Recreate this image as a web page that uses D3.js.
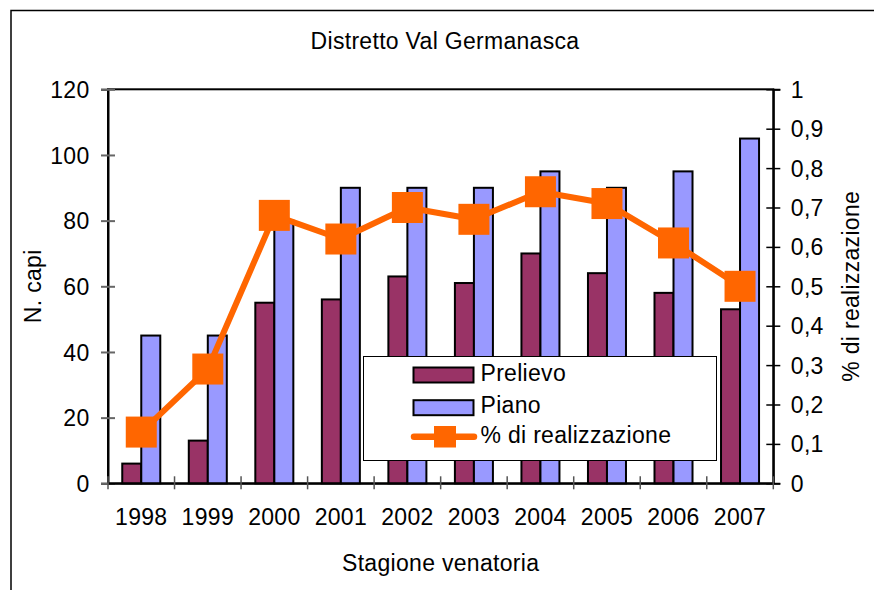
<!DOCTYPE html>
<html>
<head>
<meta charset="utf-8">
<script src="https://cdn.jsdelivr.net/npm/d3@7"></script>
<style>
  html, body { margin: 0; padding: 0; background: #fff; }
  svg text { font-family: "Liberation Sans", Arial, sans-serif; font-size: 23px; letter-spacing: 0.3px; fill: #000; }
</style>
</head>
<body>
<svg id="chart" width="874" height="590"></svg>
<script>
// Hunting seasons and culling figures
const seasons = ["1998", "1999", "2000", "2001", "2002", "2003", "2004", "2005", "2006", "2007"];
const prelievo = [6, 13, 55, 56, 63, 61, 70, 64, 58, 53];
const piano = [45, 45, 80, 90, 90, 90, 95, 90, 95, 105];
const realizzazione = [0.13, 0.29, 0.68, 0.62, 0.70, 0.67, 0.74, 0.71, 0.61, 0.50];
const leftTicks = [0, 20, 40, 60, 80, 100, 120];
const rightTicks = [0, 0.1, 0.2, 0.3, 0.4, 0.5, 0.6, 0.7, 0.8, 0.9, 1];
const seriesNames = ["Prelievo", "Piano"];
const lineName = "% di realizzazione";
const chartTitle = "Distretto Val Germanasca";
const xTitle = "Stagione venatoria";
const yTitle = "N. capi";
const y2Title = "% di realizzazione";

const barColors = { "Prelievo": "#993366", "Piano": "#9999FF" };
const lineColor = "#FF6600";
const FONT = "'Liberation Sans', Arial, sans-serif";

const plot = { left: 108, right: 773.3, top: 89.3, bottom: 483.3 };

const svg = d3.select("#chart");

// outer chart frame
svg.append("rect")
  .attr("x", 11).attr("y", 10.5).attr("width", 900).attr("height", 620)
  .attr("fill", "#fff").attr("stroke", "#000").attr("stroke-width", 1.5);

// scales
const x = d3.scaleBand().domain(seasons).range([plot.left, plot.right]).padding(0);
const xs = d3.scaleBand().domain(seriesNames).range([0, x.bandwidth()])
  .paddingInner(0).paddingOuter(0.75);
const y = d3.scaleLinear().domain([0, 120]).range([plot.bottom, plot.top]);
const y2 = d3.scaleLinear().domain([0, 1]).range([plot.bottom, plot.top]);

// plot area frame
svg.append("rect")
  .attr("x", plot.left).attr("y", plot.top)
  .attr("width", plot.right - plot.left).attr("height", plot.bottom - plot.top)
  .attr("fill", "#fff").attr("stroke", "#000").attr("stroke-width", 2);

// bars
const rows = seasons.map((s, i) => ({ season: s, Prelievo: prelievo[i], Piano: piano[i] }));
const groups = svg.append("g").selectAll("g").data(rows).join("g")
  .attr("transform", d => `translate(${x(d.season)},0)`);
groups.selectAll("rect")
  .data(d => seriesNames.map(k => ({ key: k, value: d[k] })))
  .join("rect")
  .attr("x", d => xs(d.key))
  .attr("y", d => y(d.value))
  .attr("width", xs.bandwidth())
  .attr("height", d => y(0) - y(d.value))
  .attr("fill", d => barColors[d.key])
  .attr("stroke", "#000").attr("stroke-width", 2);

// left axis
const gLeft = svg.append("g").attr("transform", `translate(${plot.left},0)`)
  .call(d3.axisLeft(y).tickValues(leftTicks).tickSize(7));
gLeft.select(".domain").attr("stroke", "#000").attr("stroke-width", 2);
gLeft.selectAll(".tick line").attr("x1", -7).attr("x2", 7).attr("stroke", "#666").attr("stroke-width", 2);
gLeft.selectAll(".tick text").attr("x", -18.5).attr("dy", "0.35em")
  .style("font-size", "23px").style("font-family", FONT);

// right axis
const fmtComma = v => String(+v.toFixed(1)).replace(".", ",");
const gRight = svg.append("g").attr("transform", `translate(${plot.right},0)`)
  .call(d3.axisRight(y2).tickValues(rightTicks).tickFormat(fmtComma).tickSize(7));
gRight.select(".domain").attr("stroke", "#000").attr("stroke-width", 2);
gRight.selectAll(".tick line").attr("x1", -7).attr("x2", 7).attr("stroke", "#000").attr("stroke-width", 1.5);
gRight.selectAll(".tick text").attr("x", 17.5).attr("dy", "0.35em")
  .style("font-size", "23px").style("font-family", FONT);

// bottom axis: category boundary ticks
const gBottom = svg.append("g").attr("transform", `translate(0,${plot.bottom})`)
  .call(d3.axisBottom(x).tickSize(0).tickPadding(0));
gBottom.select(".domain").attr("stroke", "#000").attr("stroke-width", 2);
gBottom.selectAll(".tick text").attr("y", 41.7).attr("dy", 0)
  .style("font-size", "23px").style("font-family", FONT);
const bounds = seasons.map(s => x(s)).concat([x(seasons[seasons.length - 1]) + x.bandwidth()]);
gBottom.selectAll("line.bound").data(bounds).join("line").attr("class", "bound")
  .attr("x1", d => d).attr("x2", d => d).attr("y1", -7).attr("y2", 6)
  .attr("stroke", "#555").attr("stroke-width", 1.5);

// percentage line with square markers
const cx = s => x(s) + x.bandwidth() / 2;
const pts = seasons.map((s, i) => ({ season: s, v: realizzazione[i] }));
svg.append("path").datum(pts)
  .attr("fill", "none").attr("stroke", lineColor).attr("stroke-width", 6)
  .attr("stroke-linejoin", "round")
  .attr("d", d3.line().x(d => cx(d.season)).y(d => y2(d.v)));
const mk = 31;
svg.append("g").selectAll("rect").data(pts).join("rect")
  .attr("x", d => cx(d.season) - mk / 2).attr("y", d => y2(d.v) - mk / 2)
  .attr("width", mk).attr("height", mk).attr("fill", lineColor);

// legend
const lg = svg.append("g");
lg.append("rect").attr("x", 363.5).attr("y", 356.5).attr("width", 353).attr("height", 104)
  .attr("fill", "#fff").attr("stroke", "#000").attr("stroke-width", 1);
seriesNames.forEach((k, i) => {
  const yy = 367.5 + i * 32.7;
  lg.append("rect").attr("x", 413.5).attr("y", yy).attr("width", 60).attr("height", 15)
    .attr("fill", barColors[k]).attr("stroke", "#000").attr("stroke-width", 2);
  lg.append("text").attr("x", 480.5).attr("y", yy + 13).text(k);
});
lg.append("line").attr("x1", 414).attr("x2", 474).attr("y1", 436.7).attr("y2", 436.7)
  .attr("stroke", lineColor).attr("stroke-width", 6.5).attr("stroke-linecap", "round");
lg.append("rect").attr("x", 434).attr("y", 426).attr("width", 22).attr("height", 21.5).attr("fill", lineColor);
lg.append("text").attr("x", 480.5).attr("y", 442.7).text(lineName);

// titles
svg.append("text").attr("x", 445).attr("y", 49.3).attr("text-anchor", "middle").text(chartTitle);
svg.append("text").attr("x", (plot.left + plot.right) / 2).attr("y", 571).attr("text-anchor", "middle").text(xTitle);
svg.append("text").attr("transform", `translate(41,${(plot.top + plot.bottom) / 2}) rotate(-90)`)
  .attr("text-anchor", "middle").text(yTitle);
svg.append("text").attr("transform", `translate(859,${(plot.top + plot.bottom) / 2}) rotate(-90)`)
  .attr("text-anchor", "middle").text(y2Title);
</script>
</body>
</html>
